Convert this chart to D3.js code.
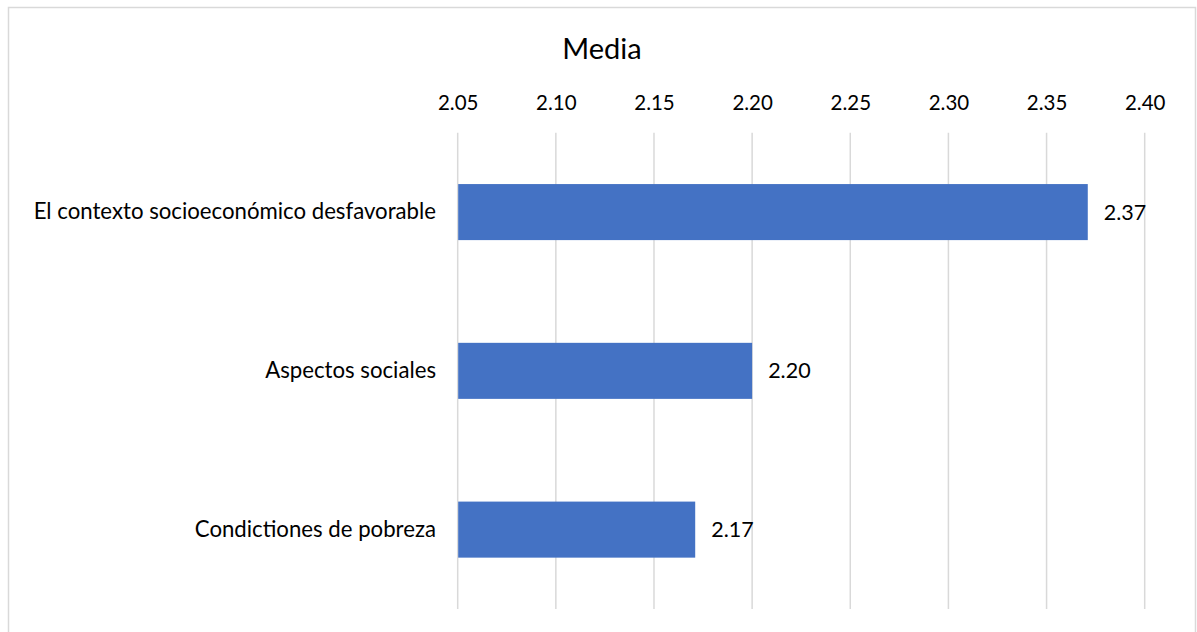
<!DOCTYPE html>
<html>
<head>
<meta charset="utf-8">
<script src="https://cdn.jsdelivr.net/npm/d3@7"></script>
<style>
  html, body { margin: 0; padding: 0; background: #fff; }
  svg { display: block; font-family: Lato, "Open Sans", sans-serif; }
</style>
</head>
<body>
<svg id="chart" width="1197" height="632"></svg>
<script>
const categories = ["El contexto socioeconómico desfavorable", "Aspectos sociales", "Condictiones de pobreza"];
const values = [2.371, 2.200, 2.171];
const labels = ["2.37", "2.20", "2.17"];
const tickValues = [2.05, 2.10, 2.15, 2.20, 2.25, 2.30, 2.35, 2.40];
const title = "Media";

const svg = d3.select("#chart");
const pLeft = 457.7, pRight = 1144.7, pTop = 132.7, pBottom = 609;

svg.append("rect").attr("x", 8.5).attr("y", 7.5).attr("width", 1187).attr("height", 640)
  .attr("fill", "#fff").attr("stroke", "#d9d9d9").attr("stroke-width", 1.5);

const x = d3.scaleLinear().domain([2.05, 2.40]).range([pLeft, pRight]);
const y = d3.scaleBand().domain(categories).range([pTop, pBottom])
  .paddingInner(0.647).paddingOuter(0.3235);

// gridlines
svg.append("g").selectAll("line").data(tickValues).join("line")
  .attr("x1", d => x(d)).attr("x2", d => x(d))
  .attr("y1", pTop).attr("y2", pBottom)
  .attr("stroke", "#d9d9d9").attr("stroke-width", 1.5);

// top axis labels
const xAxis = d3.axisTop(x).tickValues(tickValues).tickFormat(d3.format(".2f")).tickSize(0).tickPadding(0);
const gx = svg.append("g").attr("transform", `translate(0,110)`).call(xAxis);
gx.select(".domain").remove();
gx.selectAll("text").attr("font-size", 20.5).attr("fill", "#000").attr("font-family", "Lato, sans-serif").attr("dy", 0);

// y axis labels
const yAxis = d3.axisLeft(y).tickSize(0).tickPadding(0);
const gy = svg.append("g").attr("transform", `translate(436,0)`).call(yAxis);
gy.select(".domain").remove();
gy.selectAll("text").attr("font-size", 22.2).attr("fill", "#000").attr("font-family", "Lato, sans-serif");

// bars
svg.append("g").selectAll("rect").data(categories).join("rect")
  .attr("x", x(2.05) + 0.5)
  .attr("y", d => y(d))
  .attr("width", (d, i) => x(values[i]) - x(2.05) - 0.5)
  .attr("height", y.bandwidth())
  .attr("fill", "#4472c4");

// data labels
svg.append("g").selectAll("text").data(categories).join("text")
  .attr("x", (d, i) => x(values[i]) + 16)
  .attr("y", d => y(d) + y.bandwidth() / 2)
  .attr("dy", "0.35em")
  .attr("font-size", 21.5).attr("fill", "#000")
  .text((d, i) => labels[i]);

// title
svg.append("text").attr("x", 602).attr("y", 59).attr("text-anchor", "middle")
  .attr("font-size", 29).attr("fill", "#000").text(title);
</script>
</body>
</html>
